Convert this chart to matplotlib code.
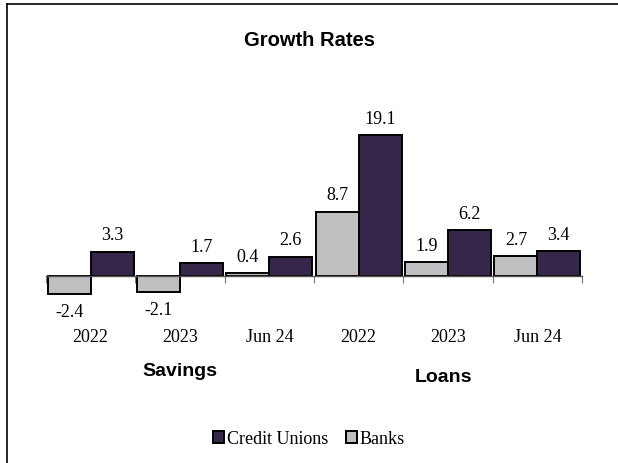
import matplotlib.pyplot as plt
from matplotlib.lines import Line2D
import numpy as np

categories = ["2022", "2023", "Jun 24", "2022", "2023", "Jun 24"]
groups = ["Savings", "Loans"]
banks = [-2.4, -2.1, 0.4, 8.7, 1.9, 2.7]
credit_unions = [3.3, 1.7, 2.6, 19.1, 6.2, 3.4]

CU_COLOR = "#35264a"
BANK_COLOR = "#bfbfc1"
SERIF = ["Liberation Serif", "DejaVu Serif"]
SANS = ["Liberation Sans", "DejaVu Sans"]

fig = plt.figure(figsize=(6.18, 4.64), dpi=100)
ax = fig.add_axes([46 / 618, 0.3075, 536 / 618, 0.4455])

x = np.arange(len(categories))
w = 0.48
ax.bar(x - w / 2, banks, w, color=BANK_COLOR, edgecolor="black", linewidth=1.4,
       label="Banks", zorder=2)
ax.bar(x + w / 2, credit_unions, w, color=CU_COLOR, edgecolor="black",
       linewidth=1.4, label="Credit Unions", zorder=2)

for xs, vals in ((x - w / 2, banks), (x + w / 2, credit_unions)):
    for xi, v in zip(xs, vals):
        off = 6 if v >= 0 else -7
        ax.annotate(f"{v:.1f}", (xi, v), xytext=(0, off), textcoords="offset points",
                    ha="center", va="bottom" if v >= 0 else "top",
                    fontsize=13, family=SERIF, zorder=3)

ax.set_xlim(-0.5, len(categories) - 0.5)
ax.set_ylim(-6, 22)
for s in ("top", "right", "left"):
    ax.spines[s].set_visible(False)
ax.spines["bottom"].set_position(("data", 0))
ax.spines["bottom"].set_linewidth(1.0)
ax.spines["bottom"].set_color("#555555")
ax.set_yticks([])
ax.set_xticks(np.arange(-0.5, len(categories), 1.0))
ax.set_xticklabels([])
ax.tick_params(axis="x", direction="out", length=5, color="#777777")

for xi, lab in zip(x, categories):
    ax.text(xi, -8.2, lab, ha="center", va="center", fontsize=13, family=SERIF,
            clip_on=False)

fig.text(180 / 618, 1 - 372 / 464, groups[0], ha="center", va="center",
         fontsize=14, fontweight="bold", family=SANS)
fig.text(443 / 618, 1 - 378 / 464, groups[1], ha="center", va="center",
         fontsize=14, fontweight="bold", family=SANS)
fig.text(0.5, 1 - 40 / 464, "Growth Rates", ha="center", va="center",
         fontsize=14.5, fontweight="bold", family=SANS)

handles, labels = ax.get_legend_handles_labels()
fig.legend(handles[::-1], labels[::-1], loc="center", bbox_to_anchor=(0.5, 1 - 440 / 464),
           ncol=2, frameon=False, prop={"family": SERIF, "size": 13},
           handlelength=0.6, handleheight=0.6, handletextpad=0.15, columnspacing=1.0)

# frame: only left and top edges are visible in the reference
fx, fy = 6.5 / 618, 1 - 4.5 / 464
fig.add_artist(Line2D([fx, fx], [0, fy], transform=fig.transFigure, color="black", lw=1.2))
fig.add_artist(Line2D([fx, 1], [fy, fy], transform=fig.transFigure, color="black", lw=1.2))

fig.savefig("out.png", dpi=100)
